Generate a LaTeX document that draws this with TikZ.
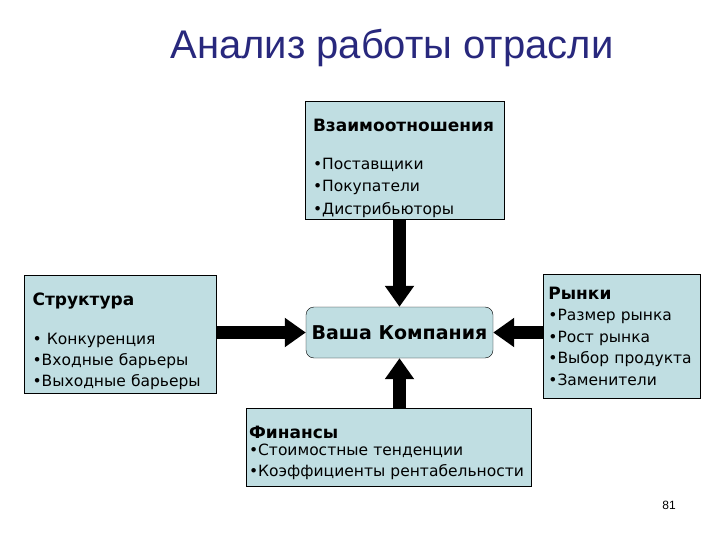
\documentclass[tikz,border=0pt]{standalone}
\usepackage{fontspec}
\setmainfont{DejaVu Sans}
\newfontfamily\titlefont{Liberation Sans}
\usetikzlibrary{shapes,arrows.meta,positioning,calc}
\definecolor{boxblue}{RGB}{192,222,226}
\definecolor{titleblue}{RGB}{40,40,125}
\newcommand{\boxhead}[2]{\rule{0pt}{#1}{\fontsize{17}{20}\selectfont\bfseries #2}}

\tikzset{
  infobox/.style={draw, rectangle, fill=boxblue, align=left, inner ysep=2pt,
    font=\fontsize{15.5}{22}\selectfont},
  bigarrow/.style={line width=13pt, -{Triangle[length=21pt,width=28pt]}}
}

\begin{document}
\begin{tikzpicture}[x=1pt,y=-1pt]
    \useasboundingbox (0,0) rectangle (720,540);
    \node[anchor=base, text=titleblue, font=\titlefont\fontsize{40}{48}\selectfont] (title) at (392,59) {Анализ работы отрасли};

    \node[draw, rounded corners=8pt, fill=boxblue, minimum width=187pt, minimum height=51pt, font=\bfseries\fontsize{19}{22}\selectfont] (comp) at (399.5,332.5) {Ваша Компания};

    \node[infobox, text width=183pt, inner xsep=8pt, minimum height=118pt, above=87pt of comp, xshift=5pt, font=\fontsize{15.5}{22.5}\selectfont] (rel) {\boxhead{29pt}{Взаимоотношения}\\[15pt] •Поставщики\\ •Покупатели\\ •Дистрибьюторы};
    \node[infobox, text width=176pt, inner xsep=8pt, minimum height=118pt, left=89pt of comp, yshift=-1.5pt, font=\fontsize{15.5}{21}\selectfont] (struct) {\boxhead{27pt}{Структура}\\[18pt] • Конкуренция\\ •Входные барьеры\\ •Выходные барьеры};
    \node[infobox, text width=147pt, inner xsep=5pt, minimum height=124pt, right=50pt of comp, yshift=-3.5pt, font=\fontsize{15.5}{21.5}\selectfont] (mkt) {\boxhead{13pt}{Рынки}\\ •Размер рынка\\ •Рост рынка\\ •Выбор продукта\\ •Заменители};
    \node[infobox, text width=279pt, inner xsep=3pt, minimum height=78pt, below=50pt of comp, xshift=-11pt, font=\fontsize{15.5}{21}\selectfont] (fin) {\boxhead{23pt}{Финансы}\\[-4pt] •Стоимостные тенденции\\ •Коэффициенты рентабельности};

    \node[font=\titlefont\fontsize{12}{14}\selectfont] (pnum) at (669,505) {81};

    \draw[bigarrow] (rel.south -| comp.north) -- (comp.north);
    \draw[bigarrow] (struct.east |- comp.west) -- (comp.west);
    \draw[bigarrow] (mkt.west |- comp.east) -- (comp.east);
    \draw[bigarrow] (fin.north -| comp.south) -- (comp.south);
\end{tikzpicture}
\end{document}
